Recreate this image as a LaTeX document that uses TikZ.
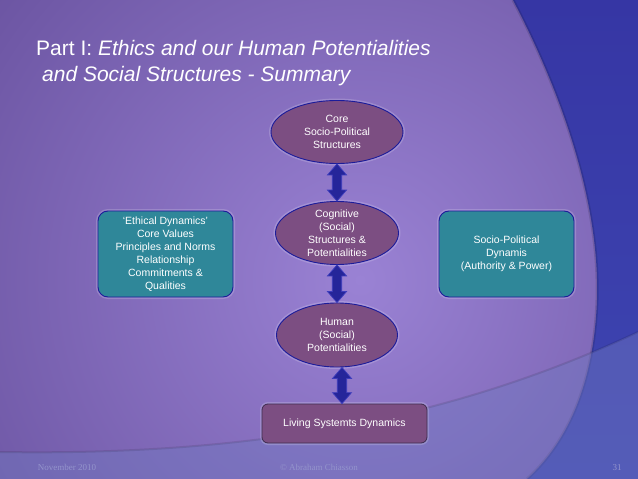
\documentclass[tikz,border=0pt]{standalone}
\usepackage{fontspec}
\setmainfont{Liberation Sans}
\newfontfamily\footfont{Liberation Serif}
\usetikzlibrary{shapes.geometric,calc}
\definecolor{bgin}{HTML}{9A82D4}
\definecolor{bgout}{HTML}{46307A}
\definecolor{bluetop}{HTML}{3636A4}
\definecolor{bluebot}{HTML}{3E46B2}
\definecolor{bandcol}{HTML}{7078C0}
\definecolor{mauve}{HTML}{7C4E82}
\definecolor{teal}{HTML}{2F8799}
\definecolor{edgeblue}{HTML}{1C1C9A}
\definecolor{arrowblue}{HTML}{25259A}
\definecolor{arrowedge}{HTML}{3C3CBC}
\definecolor{livingedge}{HTML}{3E2C4E}
\definecolor{footcol}{HTML}{9494CC}
\tikzset{
  halo/.style={preaction={draw=white,draw opacity=0.18,line width=4pt}},
  ellnode/.style={ellipse,draw=edgeblue,line width=0.9pt,fill=mauve,inner sep=0pt,halo},
  tealbox/.style={rectangle,rounded corners=10pt,draw=edgeblue,line width=0.9pt,fill=teal,
    minimum width=135pt,minimum height=86pt,inner sep=2pt,halo,
    text=white,align=center,font=\fontsize{10.5}{13}\selectfont},
  livebox/.style={rectangle,rounded corners=6pt,draw=livingedge,line width=0.8pt,fill=mauve,
    minimum width=165pt,minimum height=39pt,inner sep=2pt,halo,
    text=white,font=\fontsize{10.5}{13}\selectfont},
  elltext/.style={text=white,align=center,font=\fontsize{10.5}{13}\selectfont},
  dblarrow/.style={fill=arrowblue,draw=arrowedge,line width=0.7pt,line join=miter},
  titletext/.style={text=white,anchor=base west,inner sep=0pt,font=\fontsize{21}{25}\selectfont},
  foottext/.style={text=footcol,anchor=base,inner sep=0pt,font=\footfont\fontsize{9}{10}\selectfont}
}
% vertical double-headed block arrow from node anchor #1 (top) to node anchor #2 (bottom)
\newcommand\vdblarrow[2]{%
  \path[dblarrow] let \p1=(#1), \p2=(#2) in
    (\x1,\y1) -- (\x1+9.5pt,\y1-11pt) -- (\x1+4.7pt,\y1-11pt) -- (\x1+4.7pt,\y2+11pt)
    -- (\x1+9.5pt,\y2+11pt) -- (\x1,\y2) -- (\x1-9.5pt,\y2+11pt) -- (\x1-4.7pt,\y2+11pt)
    -- (\x1-4.7pt,\y1-11pt) -- (\x1-9.5pt,\y1-11pt) -- cycle;}
\begin{document}
\begin{tikzpicture}[x=1pt,y=-1pt]
\useasboundingbox (0,0) rectangle (638,479);
% background
\begin{scope}
\clip (0,0) rectangle (638,479);
\shade[inner color=bgin,outer color=bgout] (360,280) circle (840);
\shade[top color=bluetop,bottom color=bluebot]
  (513,0) .. controls (560,90) and (600,200) .. (597,300)
  .. controls (594,380) and (570,440) .. (527,479) -- (638,479) -- (638,0) -- cycle;
\draw[black,opacity=0.12,line width=3pt]
  (513,0) .. controls (560,90) and (600,200) .. (597,300)
  .. controls (594,380) and (570,440) .. (527,479);
\fill[bandcol,opacity=0.45]
  (0,452) .. controls (250,456) and (450,420) .. (638,332) -- (638,479) -- (0,479) -- cycle;
\draw[black,opacity=0.10,line width=2pt]
  (0,452) .. controls (250,456) and (450,420) .. (638,332);
\end{scope}
% title
\node[titletext] (title1) at (36,56) {Part I: \textit{Ethics and our Human Potentialities}};
\node[titletext] (title2) at (42,81) {\textit{and Social Structures - Summary}};
% nodes
\node[ellnode,minimum width=132pt,minimum height=63pt] (core) at (337,132) {};
\node[elltext] (coretxt) at (core) {Core\\Socio-Political\\Structures};
\node[ellnode,minimum width=123pt,minimum height=63pt] (cog) at (337,233) {};
\node[elltext] (cogtxt) at (cog) {Cognitive\\(Social)\\Structures \&\\Potentialities};
\node[ellnode,minimum width=121pt,minimum height=64pt] (human) at (337,335) {};
\node[elltext] (humantxt) at (human) {Human\\(Social)\\Potentialities};
\node[livebox] (living) at (344.5,423.5) {Living Systemts Dynamics};
\node[tealbox] (ethic) at (165.5,254) {`Ethical Dynamics'\\Core Values\\Principles and Norms\\Relationship\\Commitments \&\\Qualities};
\node[tealbox] (spd) at (506.5,254) {Socio-Political\\Dynamis\\(Authority \& Power)};
% arrows
\vdblarrow{core.south}{cog.north}
\vdblarrow{cog.south}{human.north}
\vdblarrow{[xshift=5pt]human.south}{[xshift=5pt]human.south |- living.north}
% footer
\node[foottext] (date) at (67,470) {November 2010};
\node[foottext] (author) at (319,470) {\textcopyright{} Abraham Chiasson};
\node[foottext] (page) at (617,470) {31};
\end{tikzpicture}
\end{document}
